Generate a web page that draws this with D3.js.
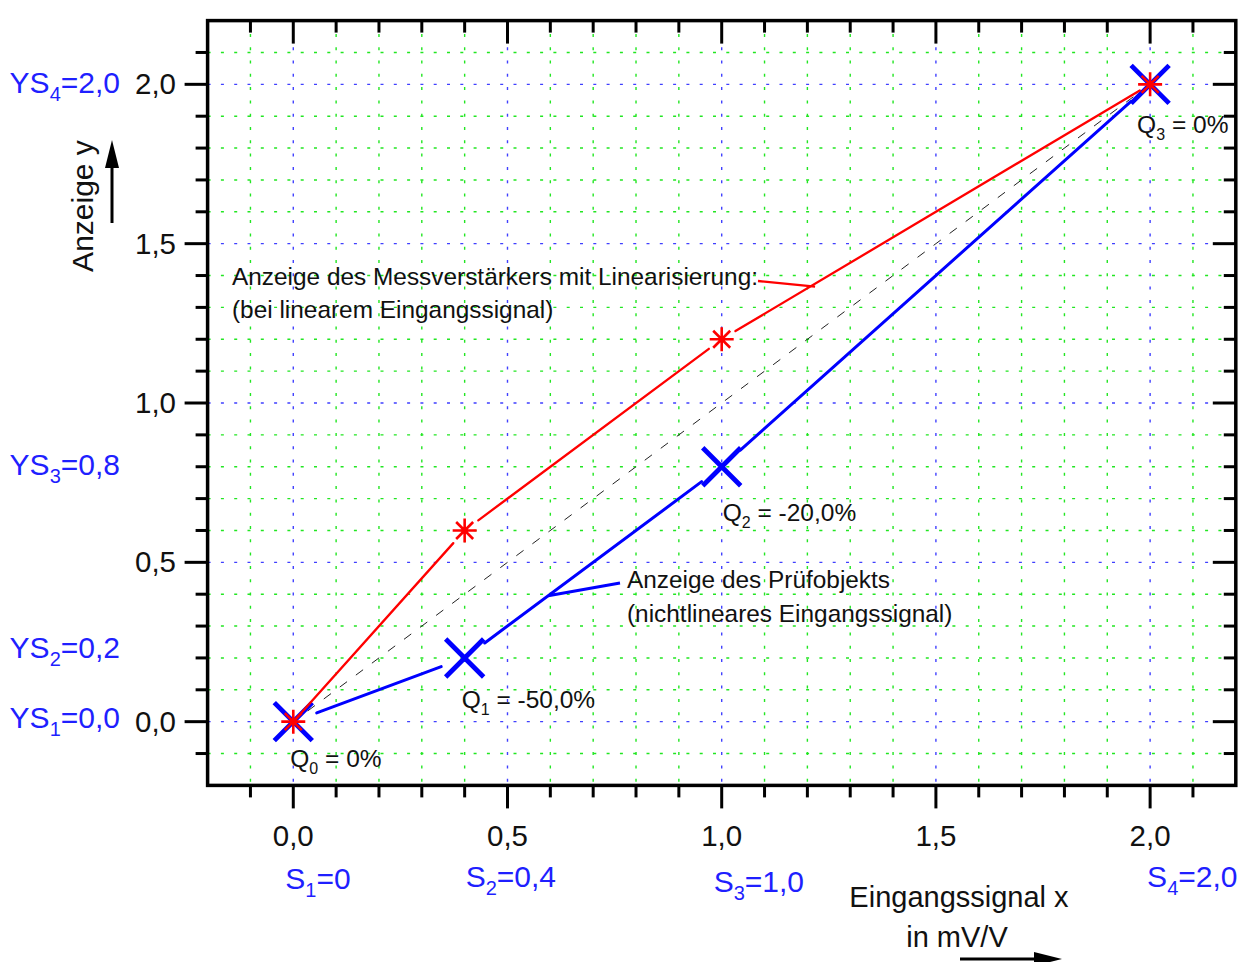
<!DOCTYPE html>
<html><head><meta charset="utf-8">
<script src="https://cdn.jsdelivr.net/npm/d3@7"></script>
<style>body{margin:0;background:#fff} svg{display:block} text{font-family:"Liberation Sans",Arial,sans-serif}</style>
</head><body><svg id="c" width="1239" height="962"></svg>
<script>
// ---- data ----
const inputSignal = [0, 0.4, 1.0, 2.0];        // S1..S4 (mV/V)
const linearized  = [0, 0.6, 1.2, 2.0];        // Anzeige des Messverstärkers mit Linearisierung
const specimen    = [0, 0.2, 0.8, 2.0];        // Anzeige des Prüfobjekts
const qValues     = ["0%", "-50,0%", "-20,0%", "0%"];
const sLabels     = ["0", "0,4", "1,0", "2,0"];
const ysLabels    = ["0,0", "0,2", "0,8", "2,0"];
const tickValues  = [0, 0.5, 1.0, 1.5, 2.0];
const tickLabels  = ["0,0", "0,5", "1,0", "1,5", "2,0"];
const axisDomain  = [-0.2, 2.2];

// ---- layout ----
const svg = d3.select("#c");
const x = d3.scaleLinear().domain(axisDomain).range([207.6, 1235.8]);
const y = d3.scaleLinear().domain(axisDomain).range([785.4, 20.6]);
const X0 = x(axisDomain[0]), X1 = x(axisDomain[1]), Y0 = y(axisDomain[0]), Y1 = y(axisDomain[1]);
const BLUE = "#0000ff", RED = "#ff0000", LBLUE = "#1f1fff";

// ---- grid ----
const fine = d3.range(-1, 22).map(i => i / 10);
const isMajor = v => Math.abs(v * 2 - Math.round(v * 2)) < 1e-6;
const grid = svg.append("g");
[false, true].forEach(maj => {
  const vals = fine.filter(v => isMajor(v) === maj);
  const col = maj ? "#4040ff" : "#22e622";
  grid.selectAll(null).data(vals).join("line")
    .attr("x1", d => x(d)).attr("x2", d => x(d)).attr("y1", Y1).attr("y2", Y0)
    .attr("stroke", col).attr("stroke-width", 1.4).attr("stroke-dasharray", "3,10.3");
  grid.selectAll(null).data(vals).join("line")
    .attr("y1", d => y(d)).attr("y2", d => y(d)).attr("x1", X0).attr("x2", X1)
    .attr("stroke", col).attr("stroke-width", 1.4).attr("stroke-dasharray", "3,10.3");
});

// ---- dashed identity line ----
function shorten(p, q, g1, g2) {
  const dx = q[0] - p[0], dy = q[1] - p[1], L = Math.hypot(dx, dy);
  return [[p[0] + dx * g1 / L, p[1] + dy * g1 / L], [q[0] - dx * g2 / L, q[1] - dy * g2 / L]];
}
const idEnds = shorten([x(inputSignal[0]), y(inputSignal[0])], [x(inputSignal[3]), y(inputSignal[3])], 18, 2);
svg.append("line").attr("x1", idEnds[0][0]).attr("y1", idEnds[0][1]).attr("x2", idEnds[1][0]).attr("y2", idEnds[1][1])
  .attr("stroke", "#222").attr("stroke-width", 1).attr("stroke-dasharray", "9,11");

// ---- series ----
function drawSeries(ys, color, width, gaps) {
  const pts = inputSignal.map((v, i) => [x(v), y(ys[i])]);
  const segs = d3.pairs(d3.range(pts.length)).map(([a, b]) => shorten(pts[a], pts[b], gaps[a], gaps[b]));
  svg.append("g").selectAll("line").data(segs).join("line")
    .attr("x1", d => d[0][0]).attr("y1", d => d[0][1]).attr("x2", d => d[1][0]).attr("y2", d => d[1][1])
    .attr("stroke", color).attr("stroke-width", width).attr("stroke-linecap", "round");
  return pts;
}
const bluePts = drawSeries(specimen, BLUE, 3, [25, 25, 25, 26]);
svg.append("g").selectAll("path").data(bluePts).join("path")
  .attr("transform", d => `translate(${d[0]},${d[1]})`)
  .attr("d", "M-19,-19L19,19M-19,19L19,-19")
  .attr("stroke", BLUE).attr("stroke-width", 4.8).attr("fill", "none");

const redPts = drawSeries(linearized, RED, 2.3, [0, 17, 16, 12]);
svg.append("g").selectAll("path").data(redPts).join("path")
  .attr("transform", d => `translate(${d[0]},${d[1]})`)
  .attr("d", "M-12,0L12,0M0,-12L0,12M-8.5,-8.5L8.5,8.5M-8.5,8.5L8.5,-8.5")
  .attr("stroke", RED).attr("stroke-width", 2.6).attr("fill", "none");

// ---- leader lines ----
const redAt = xv => d3.scaleLinear().domain(inputSignal).range(linearized)(xv);
const blueAt = xv => d3.scaleLinear().domain(inputSignal).range(specimen)(xv);
svg.append("line").attr("x1", 758).attr("y1", 281).attr("x2", x(1.218)).attr("y2", y(redAt(1.218)) + 3)
  .attr("stroke", RED).attr("stroke-width", 2.3);
svg.append("line").attr("x1", 620).attr("y1", 583).attr("x2", x(0.595)).attr("y2", y(blueAt(0.595)))
  .attr("stroke", BLUE).attr("stroke-width", 3);

// ---- frame & ticks ----
const minor = fine.filter(v => !isMajor(v));
const tk = svg.append("g").attr("stroke", "#000").attr("stroke-width", 3);
function ticks(vals, len, side) {
  tk.selectAll(null).data(vals).join("line").each(function (d) {
    const s = d3.select(this);
    if (side === "left") s.attr("x1", X0).attr("x2", X0 - len).attr("y1", y(d)).attr("y2", y(d));
    if (side === "right") s.attr("x1", X1).attr("x2", X1 - len).attr("y1", y(d)).attr("y2", y(d));
    if (side === "bottom") s.attr("y1", Y0).attr("y2", Y0 + len).attr("x1", x(d)).attr("x2", x(d));
    if (side === "top") s.attr("y1", Y1).attr("y2", Y1 + len).attr("x1", x(d)).attr("x2", x(d));
  });
}
["left", "bottom", "top", "right"].forEach(s => { ticks(tickValues, 23, s); ticks(minor, 12, s); });
svg.append("rect").attr("x", X0).attr("y", Y1).attr("width", X1 - X0).attr("height", Y0 - Y1)
  .attr("fill", "none").attr("stroke", "#000").attr("stroke-width", 3.5);

// ---- tick labels ----
svg.append("g").selectAll("text").data(tickValues).join("text")
  .attr("x", 176).attr("y", d => y(d) + 10).attr("text-anchor", "end")
  .attr("font-size", 29.5).attr("fill", "#111").text((d, i) => tickLabels[i]);
svg.append("g").selectAll("text").data(tickValues).join("text")
  .attr("x", d => x(d)).attr("y", 846).attr("text-anchor", "middle")
  .attr("font-size", 29.5).attr("fill", "#111").text((d, i) => tickLabels[i]);

// ---- helper for subscripted labels ----
function subText(sel, base, sub, rest, subSize, drop) {
  sel.append("tspan").text(base);
  sel.append("tspan").attr("font-size", subSize).attr("dy", drop).text(sub);
  sel.append("tspan").attr("dy", -drop).text(rest);
}

// YS labels (left, blue)
const ysDy = [6, 0, 8.5, 9];
specimen.forEach((v, i) => {
  const t = svg.append("text").attr("x", 120).attr("y", y(v) + ysDy[i]).attr("text-anchor", "end")
    .attr("font-size", 30).attr("fill", LBLUE);
  subText(t, "YS", String(i + 1), "=" + ysLabels[i], 20, 8);
});
// S labels (bottom, blue)
const sDx = [-8, 1, -8, -3], sY = [889, 887, 892, 887];
inputSignal.forEach((v, i) => {
  const t = svg.append("text").attr("x", x(v) + sDx[i]).attr("y", sY[i])
    .attr("font-size", 30).attr("fill", LBLUE);
  subText(t, "S", String(i + 1), "=" + sLabels[i], 20, 8);
});
// Q labels
const qOff = [[-3, 45], [-3, 50], [1, 54], [-13, 49]];
inputSignal.forEach((v, i) => {
  const t = svg.append("text").attr("x", x(v) + qOff[i][0]).attr("y", y(specimen[i]) + qOff[i][1])
    .attr("font-size", 24.5).attr("fill", "#111");
  subText(t, "Q", String(i), " = " + qValues[i], 16, 7);
});

// ---- annotations ----
const ann = [
  ["Anzeige des Messverstärkers mit Linearisierung:", 232, 285],
  ["(bei linearem Eingangssignal)", 232, 318],
  ["Anzeige des Prüfobjekts", 627, 588],
  ["(nichtlineares Eingangssignal)", 627, 622]
];
svg.append("g").selectAll("text").data(ann).join("text")
  .attr("x", d => d[1]).attr("y", d => d[2]).attr("font-size", 24.4).attr("fill", "#111").text(d => d[0]);

// ---- axis titles with arrows ----
svg.append("text").attr("x", 959).attr("y", 907).attr("text-anchor", "middle").attr("font-size", 29).attr("fill", "#111").text("Eingangssignal x");
svg.append("text").attr("x", 957).attr("y", 947).attr("text-anchor", "middle").attr("font-size", 29).attr("fill", "#111").text("in mV/V");
svg.append("line").attr("x1", 960).attr("y1", 959).attr("x2", 1040).attr("y2", 959).attr("stroke", "#000").attr("stroke-width", 3);
svg.append("path").attr("d", "M1034,952L1062,959L1034,966Z").attr("fill", "#000");

svg.append("text").attr("transform", "translate(93,206) rotate(-90)").attr("text-anchor", "middle")
  .attr("font-size", 30).attr("fill", "#111").text("Anzeige y");
svg.append("line").attr("x1", 112).attr("y1", 223).attr("x2", 112).attr("y2", 160).attr("stroke", "#000").attr("stroke-width", 3);
svg.append("path").attr("d", "M105,168L112,140L119,168Z").attr("fill", "#000");
</script></body></html>
